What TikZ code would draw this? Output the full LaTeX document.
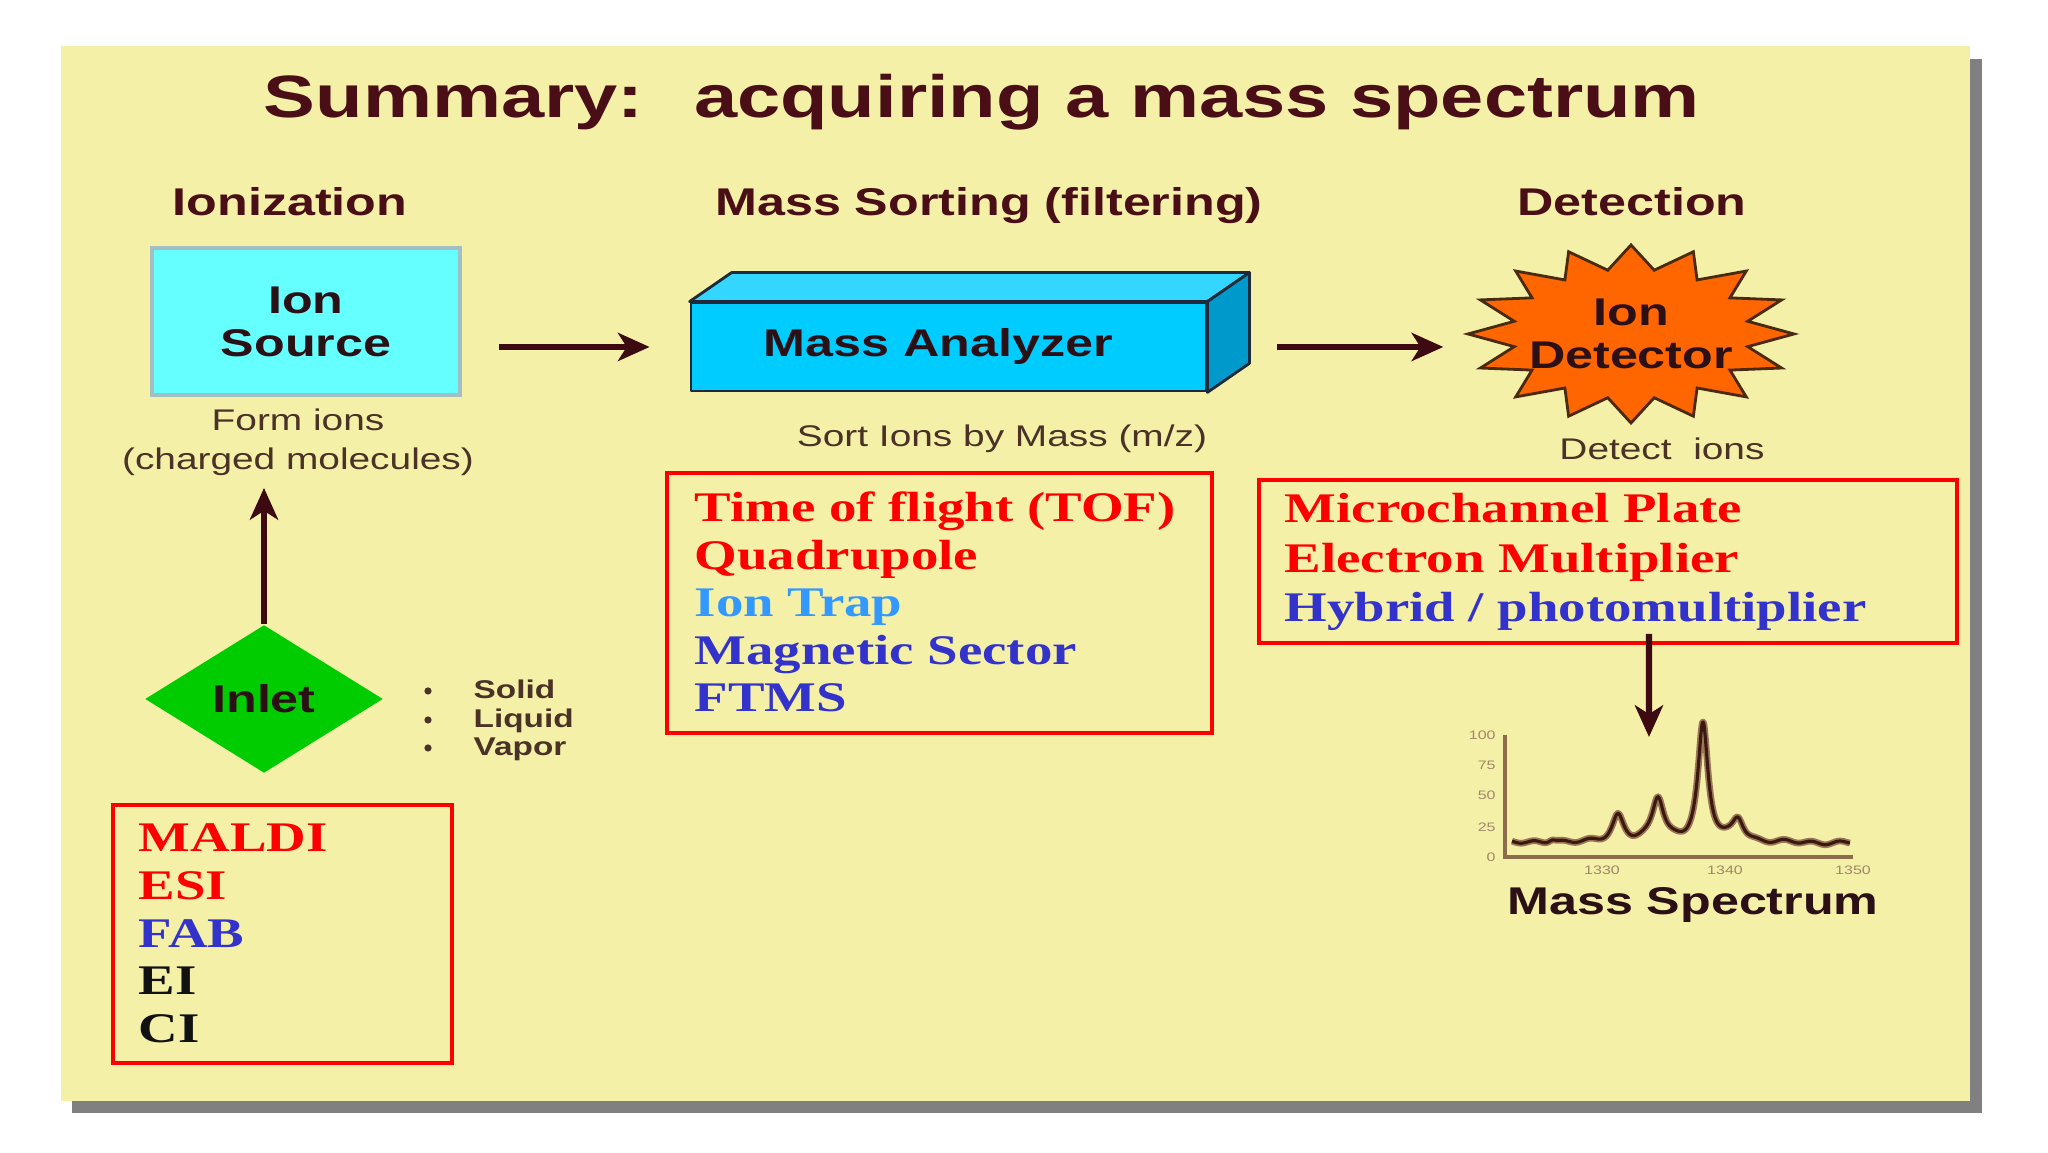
\documentclass[tikz,border=0pt]{standalone}
\usepackage{fontspec}
\setmainfont{Liberation Sans}[FakeStretch=1.3]
\newfontfamily\listfont{Liberation Serif}[FakeStretch=1.3]
\usetikzlibrary{arrows.meta,shapes.geometric}

\begin{document}
\begin{tikzpicture}

\definecolor{exppanel}{HTML}{F4F0A8}
\definecolor{expshadow}{HTML}{808080}
\definecolor{expmaroon}{HTML}{4A0E16}
\definecolor{expink}{HTML}{2B1016}
\definecolor{expnote}{HTML}{4A3326}
\definecolor{exparrow}{HTML}{3E0A12}
\definecolor{expcyan}{HTML}{66FFFF}
\definecolor{expcyanedge}{HTML}{A3BFC4}
\definecolor{expfront}{HTML}{00CCFF}
\definecolor{exptop}{HTML}{33D6FF}
\definecolor{expside}{HTML}{0099CC}
\definecolor{expboxedge}{HTML}{1E2A3A}
\definecolor{expburst}{HTML}{FF6600}
\definecolor{expburstedge}{HTML}{4A2A12}
\definecolor{expgreen}{HTML}{00CC00}
\definecolor{expred}{HTML}{FF0000}
\definecolor{explightblue}{HTML}{3399FF}
\definecolor{expblue}{HTML}{3333CC}
\definecolor{expblack}{HTML}{111111}
\definecolor{expaxis}{HTML}{8C6C4C}
\definecolor{exptick}{HTML}{A08868}
\definecolor{exphalo}{HTML}{9C7656}
\definecolor{exptrace}{HTML}{3A1A10}

\tikzset{
  heading/.style={
    font=\fontsize{11}{13}\selectfont\bfseries, text=expmaroon, anchor=base
  },
  caption/.style={font=\fontsize{8.5}{11.1}\selectfont, text=expnote},
  boxtext/.style={
    font=\fontsize{11}{12.2}\selectfont\bfseries, text=expink, align=center
  },
  sourcebox/.style={
    rectangle, draw=expcyanedge, fill=expcyan, line width=1pt,
    minimum width=3.08cm, minimum height=1.47cm
  },
  analyzerface/.style={draw=expboxedge, line width=0.8pt, line join=round},
  burststyle/.style={
    fill=expburst, draw=expburstedge, line width=0.8pt, line join=miter
  },
  inletshape/.style={
    diamond, fill=expgreen, minimum width=2.38cm, minimum height=1.48cm,
    inner sep=0pt
  },
  listbox/.style={draw=expred, line width=1.1pt, inner sep=0pt},
  listitem/.style={
    font=\listfont\fontsize{12}{14}\selectfont\bfseries, anchor=base west,
    inner xsep=0pt
  },
  stateitem/.style={
    font=\fontsize{7.3}{8.5}\selectfont\bfseries, text=expnote,
    anchor=base west, inner xsep=0pt
  },
  flowarrow/.style={
    draw=exparrow, line width=1.8pt,
    -{Stealth[length=9pt,width=8pt,inset=2.5pt]}
  },
  axisline/.style={draw=expaxis, line width=1.1pt},
  ticklabel/.style={font=\fontsize{3.5}{4}\selectfont, text=exptick, inner sep=0.5pt},
  declare function={pk(\x,\c,\w,\a)=\a/(1+((\x-\c)/\w)*((\x-\c)/\w));}
}

\useasboundingbox (0,0) rectangle (20.48,11.53);

% Slide panel with its drop shadow.
\fill[expshadow] (0.72,0.40) rectangle (19.82,10.94);
\fill[exppanel] (0.61,0.52) rectangle (19.70,11.07);

% Title and the three stage headings.
\node[font=\fontsize{17}{20}\selectfont\bfseries, text=expmaroon, anchor=base]
  (title) at (9.82,10.35) {Summary:~ acquiring a mass spectrum};
\node[heading] (hion)  at (2.90,9.37)  {Ionization};
\node[heading] (hsort) at (9.89,9.37)  {Mass Sorting (filtering)};
\node[heading] (hdet)  at (16.32,9.37) {Detection};

% Ion source.
\node[sourcebox, boxtext] (src) at (3.06,8.315) {Ion\\Source};
\node[caption, align=center] (srcnote) at (2.98,7.11)
  {Form ions\\(charged molecules)};

% Mass analyzer: front face as node, top and side faces on it.
\node[analyzerface, fill=expfront, boxtext, minimum width=5.15cm,
  minimum height=0.88cm, inner sep=0pt] (ma) at (9.485,8.06)
  {Mass Analyzer\hspace*{2mm}};
\filldraw[analyzerface, fill=exptop] (ma.north west) -- ++(0.42,0.29)
  -- ([shift={(0.42,0.29)}]ma.north east) -- (ma.north east) -- cycle;
\filldraw[analyzerface, fill=expside] (ma.north east) -- ++(0.42,0.29)
  -- ([shift={(0.42,0.29)}]ma.south east) -- (ma.south east) -- cycle;
\node[caption, anchor=base] (sortnote) at (10.02,7.06) {Sort Ions by Mass (m/z)};

% Ion detector burst.
\coordinate (burst) at (16.31,8.19);
\begin{scope}[shift={(burst)}]
  \filldraw[burststyle] (-11.25:1.19 and 0.65)
    \foreach \a in {0,22.5,...,337.5} {
      -- (\a:1.63 and 0.89) -- (\a+11.25:1.19 and 0.65)
    } -- cycle;
\end{scope}
\node[boxtext, minimum width=3.26cm, minimum height=1.78cm] (det) at (burst)
  {Ion\\Detector};
\node[caption, anchor=base] (detnote) at (16.62,6.93) {Detect~~ions};

% Flow from source to analyzer to detector.
\coordinate (srcout) at (src.east |- ma.west);
\coordinate (detin) at (det.west |- ma.east);
\draw[flowarrow] ([xshift=3.7mm]srcout) -- ([xshift=-4mm]ma.west);
\draw[flowarrow] ([xshift=7mm]ma.east) -- ([xshift=-2.4mm]detin);

% Inlet and sample states.
\node[inletshape, boxtext] (inlet) at (2.64,4.54) {Inlet};
\coordinate (inlettip) at (2.64,6.65);
\draw[flowarrow] (inlet.north) -- (inlettip);
\foreach \y/\state in {4.54/Solid,4.25/Liquid,3.97/Vapor} {
  \fill[expnote] (4.28,\y+0.08) circle (0.036);
  \node[stateitem] (st\state) at (4.73,\y) {\state};
}

% Ionization methods.
\node[listbox, minimum width=3.39cm, minimum height=2.58cm] (ionbox)
  at (2.825,2.19) {};
\foreach \y/\col/\method in {3.01/expred/MALDI, 2.53/expred/ESI,
  2.05/expblue/FAB, 1.58/expblack/EI, 1.10/expblack/CI}
  \node[listitem, text=\col] (m\method) at (1.38,\y) {\method};

% Analyzer types.
\node[listbox, minimum width=5.45cm, minimum height=2.60cm] (sortbox)
  at (9.395,5.50) {};
\foreach \y/\col/\kind [count=\k] in {6.31/expred/{Time of flight (TOF)},
  5.835/expred/Quadrupole, 5.36/explightblue/{Ion Trap},
  4.885/expblue/{Magnetic Sector}, 4.41/expblue/FTMS}
  \node[listitem, text=\col] (sort\k) at (6.94,\y) {\kind};

% Detector types.
\node[listbox, minimum width=6.98cm, minimum height=1.63cm] (detbox)
  at (16.08,5.915) {};
\foreach \y/\col/\kind [count=\k] in {6.30/expred/{Microchannel Plate},
  5.80/expred/{Electron Multiplier}, 5.31/expblue/{Hybrid / photomultiplier}}
  \node[listitem, text=\col] (dk\k) at (12.84,\y) {\kind};

\coordinate (spectip) at (16.49,4.16);
\draw[flowarrow] ([xshift=4.1mm,yshift=1.1mm]detbox.south) -- (spectip);

% Mass spectrum.
\draw[axisline] (15.05,4.18) -- (15.05,2.96) -- (18.53,2.96);
\foreach \y/\v [count=\k] in {4.18/100,3.88/75,3.58/50,3.26/25,2.96/0}
  \node[ticklabel, anchor=east] (ytick\k) at (14.98,\y) {\v};
\foreach \x/\v [count=\k] in {16.02/1330,17.25/1340,18.53/1350}
  \node[ticklabel, anchor=north] (xtick\k) at (\x,2.90) {\v};
\foreach \w/\c in {1.9pt/exphalo,0.9pt/exptrace}
  \draw[line width=\w, draw=\c, line join=round]
    plot[domain=15.12:18.50, samples=260, smooth]
    (\x, {3.10 + pk(\x,15.52,0.05,0.04) + pk(\x,16.18,0.07,0.27)
      + pk(\x,16.58,0.07,0.44) + pk(\x,17.03,0.06,1.18)
      + pk(\x,17.38,0.07,0.23)
      + 0.015*sin((\x-15)*1300) + 0.008*sin((\x-15)*530)});
\node[heading, text=expink] (spectitle) at (16.93,2.38) {Mass Spectrum};

\end{tikzpicture}
\end{document}
